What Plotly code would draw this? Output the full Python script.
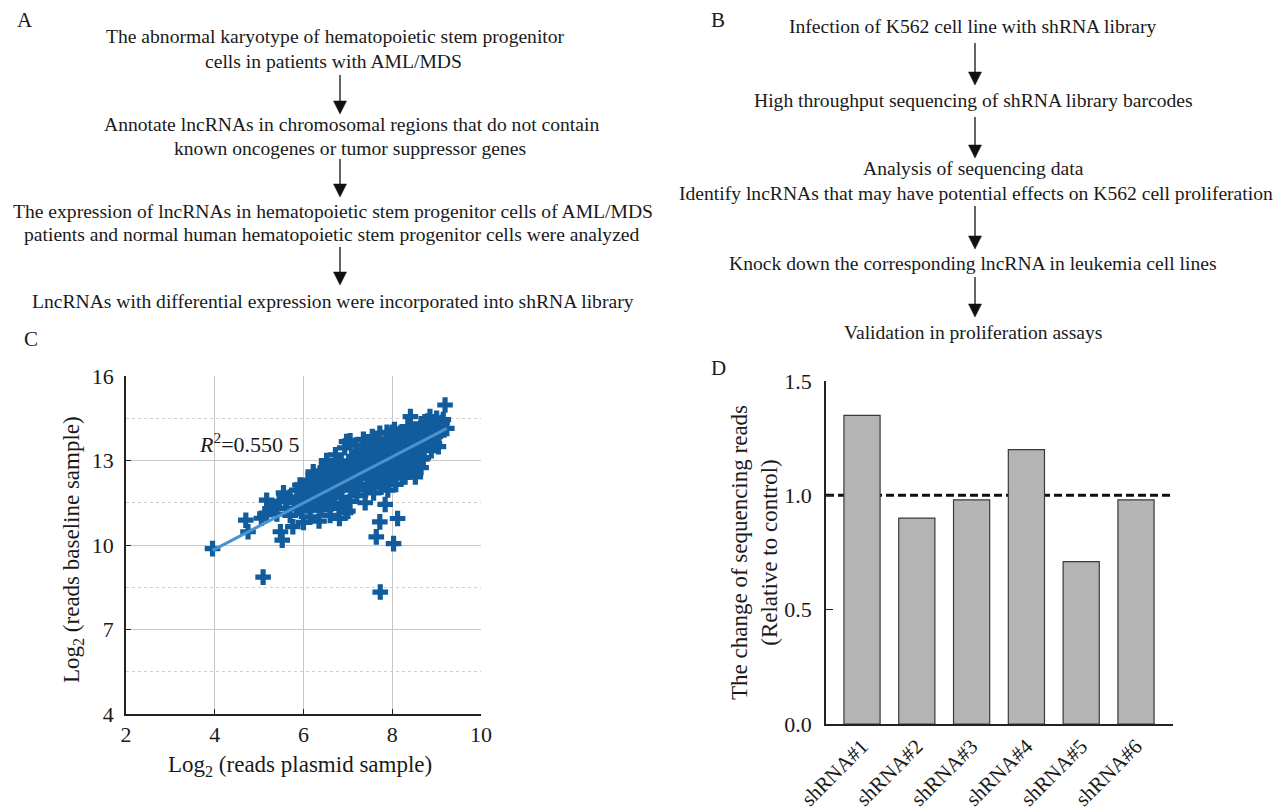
import plotly.graph_objects as go

W, H = 1288, 810
OX, OY = 8, 8  # page body margin offset of the embedded figure
FONT = "Liberation Serif"
INK = "#1a1a1a"

# ---------------- Panel C data (log2 reads) ----------------
plasmid_x = [
    3.95, 4.75, 4.70, 5.09, 5.13, 5.17, 5.05, 5.25, 5.35, 5.40, 5.48, 5.52, 5.45, 5.55,
    5.62, 5.70, 5.76, 5.80, 5.85, 5.92, 5.95, 6.00, 6.05, 6.10, 6.15, 6.20, 6.25, 6.30,
    6.35, 6.37, 6.40, 6.45, 6.50, 6.52, 6.55, 6.60, 6.62, 6.65, 6.70, 6.72, 6.75, 6.80,
    6.81, 6.85, 6.88, 6.90, 6.93, 6.97, 7.00, 7.02, 7.05, 7.08, 7.10, 7.12, 7.15, 7.18,
    7.20, 7.25, 7.28, 7.30, 7.32, 7.35, 7.39, 7.40, 7.45, 7.48, 7.50, 7.52, 7.55, 7.58,
    7.60, 7.62, 7.65, 7.68, 7.72, 7.70, 7.75, 7.78, 7.80, 7.82, 7.85, 7.88, 7.90, 7.92,
    7.95, 7.98, 8.00, 8.02, 8.05, 8.08, 8.10, 8.12, 8.15, 8.18, 8.20, 8.22, 8.25, 8.28,
    8.29, 8.30, 8.32, 8.35, 8.38, 8.40, 8.41, 8.42, 8.45, 8.48, 8.52, 8.55, 8.58, 8.60,
    8.62, 8.65, 8.70, 8.72, 8.75, 8.78, 8.80, 8.85, 8.88, 8.90, 8.92, 8.95, 9.00, 9.04,
    9.05, 9.10, 9.15, 9.19, 9.23,
    7.73, 8.03, 7.64, 7.72, 8.12, 7.84, 6.95,
    6.20, 6.45, 6.85, 7.20, 7.60, 8.00, 5.70, 5.95, 6.10, 6.60, 7.05, 6.30, 6.70,
    7.40, 7.90, 8.35, 8.65, 6.55, 7.15, 7.75, 8.25, 8.95, 5.60, 6.00, 6.40, 6.80,
    5.88, 6.02, 6.18, 6.28, 6.42, 6.58, 6.68, 6.78, 6.92, 7.03, 7.13, 7.23, 7.33, 7.43,
    7.53, 7.63, 7.73, 7.83, 7.93, 8.03, 8.13, 8.23, 8.33, 8.43, 8.53, 8.63, 8.73, 8.83,
    6.48, 6.63, 6.77, 6.98, 7.17, 7.37, 7.57, 7.77, 7.97, 8.17, 8.37, 8.57, 8.77, 8.97,
    6.33, 6.57, 6.87, 7.07, 7.27, 7.47, 7.67, 7.87, 8.07, 8.27, 8.47, 8.67, 8.87, 9.07,
    6.22, 6.52, 6.74, 6.95, 7.22, 7.42, 7.62, 7.82, 8.02, 8.22, 8.44, 8.64, 8.84, 9.12,
]
baseline_y = [
    9.87, 10.47, 10.88, 8.86, 11.11, 11.59, 10.95, 11.25, 11.35, 11.10, 10.47, 10.17, 11.55, 11.85,
    11.30, 11.05, 10.65, 11.50, 11.95, 12.13, 11.20, 10.80, 11.65, 12.30, 11.00, 11.40, 11.90, 12.45,
    10.85, 12.55, 11.25, 11.70, 12.15, 13.00, 12.70, 11.05, 11.45, 11.90, 12.35, 13.20, 12.80, 11.30,
    10.94, 11.70, 12.10, 12.55, 13.45, 13.67, 11.20, 12.95, 11.55, 11.95, 12.35, 12.75, 13.15, 13.55,
    11.75, 12.15, 12.55, 12.95, 13.35, 13.75, 11.50, 11.95, 12.35, 12.75, 13.10, 13.50, 13.85, 11.85,
    12.20, 12.60, 13.00, 13.40, 13.97, 13.75, 12.05, 12.45, 12.85, 13.25, 13.60, 14.00, 11.95, 12.30,
    12.70, 13.10, 13.45, 13.80, 14.10, 12.15, 12.55, 12.95, 13.30, 13.65, 14.00, 12.40, 12.80, 13.15,
    12.42, 13.55, 13.90, 14.20, 12.65, 13.05, 14.56, 13.40, 13.75, 14.10, 12.42, 12.90, 13.25, 13.60,
    13.95, 14.30, 13.10, 13.45, 13.80, 14.15, 14.40, 14.56, 13.35, 13.70, 14.05, 14.30, 14.50, 13.49,
    13.90, 14.20, 14.45, 14.97, 14.14,
    8.33, 10.05, 10.29, 10.82, 10.94, 11.44, 11.15,
    12.00, 12.40, 12.95, 13.30, 13.60, 14.00, 11.70, 11.70, 11.45, 12.60, 13.70, 11.80, 11.70,
    12.80, 12.60, 12.90, 12.75, 12.10, 12.00, 12.20, 12.60, 13.60, 11.60, 11.50, 12.00, 12.50,
    11.30, 12.00, 11.80, 12.15, 12.00, 12.30, 12.55, 12.00, 12.80, 12.50, 12.90, 13.10, 12.65, 13.20,
    12.45, 12.95, 13.30, 13.05, 13.55, 12.50, 13.10, 13.70, 13.25, 13.85, 13.10, 13.40, 13.95, 13.60,
    11.55, 12.05, 12.55, 12.25, 12.20, 13.00, 12.10, 13.45, 12.40, 13.95, 12.85, 13.75, 14.25, 13.85,
    11.40, 11.60, 11.45, 12.00, 12.40, 12.10, 12.80, 12.35, 13.05, 12.70, 13.30, 13.05, 13.55, 14.05,
    12.60, 12.85, 13.00, 12.75, 12.70, 13.55, 12.35, 12.65, 12.85, 13.45, 12.60, 14.15, 13.60, 14.35,
]
fit_x = [3.95, 9.23]
fit_y = [9.81, 14.14]
r2_text = "0.550 5"

# ---------------- Panel D data ----------------
shrna_labels = ["shRNA#1", "shRNA#2", "shRNA#3", "shRNA#4", "shRNA#5", "shRNA#6"]
shrna_values = [1.35, 0.90, 0.98, 1.20, 0.71, 0.98]
control_level = 1.0

# ---------------- Panels A / B text ----------------
flow_a = [
    ("The abnormal karyotype of hematopoietic stem progenitor", 335, 37),
    ("cells in patients with AML/MDS", 333, 62),
    ("Annotate lncRNAs in chromosomal regions that do not contain", 351, 124),
    ("known oncogenes or tumor suppressor genes", 350, 148),
    ("The expression of lncRNAs in hematopoietic stem progenitor cells of AML/MDS", 333, 211),
    ("patients and normal human hematopoietic stem progenitor cells were analyzed", 332, 235),
    ("LncRNAs with differential expression were incorporated into shRNA library", 333, 301),
]
arrows_a = [(340, 75, 114), (340, 159, 197), (340, 247, 285)]
flow_b = [
    ("Infection of K562 cell line with shRNA library", 973, 26),
    ("High throughput sequencing of shRNA library barcodes", 973, 100),
    ("Analysis of sequencing data", 973, 169),
    ("Identify lncRNAs that may have potential effects on K562 cell proliferation", 976, 193),
    ("Knock down the corresponding lncRNA in leukemia cell lines", 973, 263),
    ("Validation in proliferation assays", 973, 332),
]
arrows_b = [(975, 43, 85), (975, 117, 158), (975, 206, 249), (975, 277, 317)]


def px(x):
    return (x - OX) / W


def py(y):
    return 1 - (y - OY) / H


fig = go.Figure()

fig.add_trace(go.Scatter(
    x=plasmid_x, y=baseline_y, mode="markers",
    marker=dict(symbol="cross", size=13, color="#115c9c", line=dict(width=0)),
    xaxis="x", yaxis="y", showlegend=False, hoverinfo="skip",
))
fig.add_trace(go.Scatter(
    x=fit_x, y=fit_y, mode="lines",
    line=dict(color="#4a92d0", width=3),
    xaxis="x", yaxis="y", showlegend=False, hoverinfo="skip",
))
fig.add_trace(go.Bar(
    x=shrna_labels, y=shrna_values, width=0.66,
    marker=dict(color="#b4b4b4", line=dict(color="#3a3a3a", width=1.2)),
    xaxis="x2", yaxis="y2", showlegend=False, hoverinfo="skip",
))

tickfont = dict(family=FONT, size=22, color=INK)

fig.update_layout(
    width=W, height=H,
    margin=dict(l=0, r=0, t=0, b=0, autoexpand=False),
    paper_bgcolor="white", plot_bgcolor="white",
    font=dict(family=FONT, color=INK),
    xaxis=dict(
        domain=[px(126), px(481)], range=[2, 10], tickvals=[2, 4, 6, 8, 10],
        showgrid=True, gridcolor="#c8c8c8", gridwidth=1, zeroline=False,
        showline=True, linecolor="#222", linewidth=1.5,
        ticks="inside", ticklen=5, tickcolor="#222", tickfont=tickfont,
        anchor="y", automargin=False,
    ),
    yaxis=dict(
        domain=[py(714), py(376)], range=[4, 16], tickvals=[4, 7, 10, 13, 16],
        showgrid=True, gridcolor="#c8c8c8", gridwidth=1, zeroline=False,
        minor=dict(tickvals=[5.5, 8.5, 11.5, 14.5], showgrid=True, griddash="dot",
                   gridcolor="#cfcfcf", gridwidth=1, ticks=""),
        showline=True, linecolor="#222", linewidth=1.5,
        ticks="inside", ticklen=5, tickcolor="#222", tickfont=tickfont,
        ticklabelstandoff=6, anchor="x", automargin=False,
    ),
    xaxis2=dict(
        domain=[px(826), px(1173)], range=[-0.657, 5.675], type="category",
        showgrid=False, zeroline=False, showline=True, linecolor="#222", linewidth=1.5,
        ticks="", tickangle=-45, tickfont=dict(family=FONT, size=21, color=INK),
        anchor="y2", automargin=False,
    ),
    yaxis2=dict(
        domain=[py(724), py(381)], range=[0, 1.5], tickvals=[0, 0.5, 1.0, 1.5],
        ticktext=["0.0", "0.5", "1.0", "1.5"],
        showgrid=False, zeroline=False, showline=True, linecolor="#222", linewidth=1.5,
        ticks="inside", ticklen=7, tickcolor="#222", tickfont=tickfont,
        ticklabelstandoff=8, anchor="x2", automargin=False,
    ),
    bargap=0.3,
)

fig.add_shape(type="line", xref="x2 domain", yref="y2", x0=0, x1=1,
              y0=control_level, y1=control_level, layer="below",
              line=dict(color="#111", width=3, dash="8px,4px"))

# flowchart arrows: shaft + filled triangular head, drawn as shapes
HEAD_W, HEAD_L = 6.5, 13
for x, y0, y1 in arrows_a + arrows_b:
    fig.add_shape(type="line", xref="paper", yref="paper",
                  x0=px(x), x1=px(x), y0=py(y0), y1=py(y1 - HEAD_L + 1),
                  line=dict(color="#111", width=1.3))
    path = "M {a},{b} L {c},{b} L {d},{e} Z".format(
        a=px(x - HEAD_W), b=py(y1 - HEAD_L), c=px(x + HEAD_W), d=px(x), e=py(y1))
    fig.add_shape(type="path", xref="paper", yref="paper", path=path,
                  fillcolor="#111", line=dict(color="#111", width=0.5))

ann = []


def text(t, x, y, size=20, **kw):
    d = dict(text=t, x=px(x), y=py(y), xref="paper", yref="paper",
             showarrow=False, font=dict(family=FONT, size=size, color=INK),
             xanchor="center", yanchor="middle")
    d.update(kw)
    ann.append(d)


for t, x, y in flow_a + flow_b:
    text(t, x, y, size=19.6)

# panel letters
text("A", 25, 20, size=21)
text("B", 718, 20, size=21)
text("C", 31, 339, size=21)
text("D", 719, 368, size=21)

# panel C titles
text("Log<sub>2</sub> (reads baseline sample)", 73, 550, size=23, textangle=-90)
text("Log<sub>2</sub> (reads plasmid sample)", 300, 766, size=23)
ann.append(dict(text="<i>R</i><sup>2</sup>=" + r2_text, x=3.6, y=13.62, xref="x", yref="y",
                showarrow=False, xanchor="left", yanchor="middle",
                font=dict(family=FONT, size=22, color=INK)))

# panel D title
text("The change of sequencing reads<br>(Relative to control)", 754, 552, size=23, textangle=-90)

fig.update_layout(annotations=ann)

fig.write_html("out.html")
